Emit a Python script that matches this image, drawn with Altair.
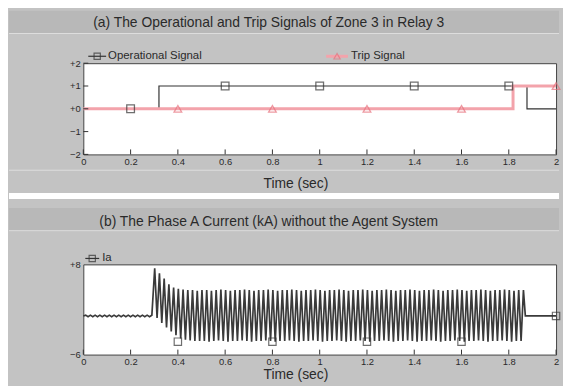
import altair as alt
import pandas as pd

# ---------------- data ----------------
time_ticks = [0, 0.2, 0.4, 0.6, 0.8, 1.0, 1.2, 1.4, 1.6, 1.8, 2.0]
sig_ticks = [-2, -1, 0, 1, 2]
ia_ticks = [-6, 8]

# (a) operational and trip signals (step shapes)
op_t = [0.0, 0.32, 0.32, 1.877, 1.877, 2.0]
op_v = [0, 0, 1, 1, 0, 0]
trip_t = [0.0, 1.818, 1.818, 2.0]
trip_v = [0, 0, 1, 1]
op_mark_t = [0.2, 0.6, 1.0, 1.4, 1.8]
op_mark_v = [0, 1, 1, 1, 1]
trip_mark_t = [0.4, 0.8, 1.2, 1.6, 2.0]
trip_mark_v = [0, 0, 0, 0, 1]

# (b) phase A current (kA): half-cycle peaks (50 Hz)
half_period = 0.01
pre_start = 0.0
pre_peaks = [0.0, 0.12, -0.12, 0.12, -0.12, 0.12, -0.12, 0.12, -0.12, 0.12,
             -0.12, 0.12, -0.12, 0.12, -0.12, 0.12, -0.12, 0.12, -0.12, 0.12,
             -0.12, 0.12, -0.12, 0.12, -0.12, 0.12, -0.12, 0.12, -0.12, 0.12]
fault_start = 0.302
fault_hi = [7.4, 6.6, 5.8, 4.9, 4.4, 4.2, 4.1, 4.0, 4.0, 3.9,
            4.0, 4.0, 3.9, 4.0, 4.1, 4.0, 3.9, 4.0, 4.0, 4.1,
            4.0, 3.9, 4.0, 4.0, 4.1, 4.0, 3.9, 4.0, 4.0, 4.1,
            4.0, 3.9, 4.0, 4.0, 4.1, 4.0, 3.9, 4.0, 4.0, 4.1,
            4.0, 3.9, 4.0, 4.0, 4.1, 4.0, 3.9, 4.0, 4.0, 4.1,
            4.0, 3.9, 4.0, 4.0, 4.1, 4.0, 3.9, 4.0, 4.0, 4.1,
            4.0, 3.9, 4.0, 4.0, 4.1, 4.0, 3.9, 4.0, 4.0, 4.1,
            4.0, 3.9, 4.0, 4.0, 4.1, 4.0, 3.9, 4.0, 4.0]
fault_lo = [-0.3, -1.1, -1.8, -2.4, -3.0, -3.5, -3.7, -3.8, -3.9, -3.9,
            -3.9, -4.0, -3.9, -3.8, -3.9, -4.0, -3.9, -3.9, -3.8, -3.9,
            -4.0, -3.9, -3.9, -3.8, -3.9, -4.0, -3.9, -3.9, -3.8, -3.9,
            -4.0, -3.9, -3.9, -3.8, -3.9, -4.0, -3.9, -3.9, -3.8, -3.9,
            -4.0, -3.9, -3.9, -3.8, -3.9, -4.0, -3.9, -3.9, -3.8, -3.9,
            -4.0, -3.9, -3.9, -3.8, -3.9, -4.0, -3.9, -3.9, -3.8, -3.9,
            -4.0, -3.9, -3.9, -3.8, -3.9, -4.0, -3.9, -3.9, -3.8, -3.9,
            -4.0, -3.9, -3.9, -3.8, -3.9, -4.0, -3.9, -3.9]
post_t = [1.870, 2.0]
post_v = [0.0, 0.0]
ia_mark_t = [0.4, 0.8, 1.2, 1.6, 2.0]
ia_mark_v = [-4.0, -4.0, -4.0, -4.0, 0.0]

title_a = "(a) The Operational and Trip Signals of Zone 3 in Relay 3"
title_b = "(b) The Phase A Current (kA) without the Agent System"
legend_a = ["Operational Signal", "Trip Signal"]
legend_b = ["Ia"]

# ---------------- build tables ----------------
ia_t, ia_v = [], []
for k, v in enumerate(pre_peaks):
    ia_t.append(pre_start + k * half_period)
    ia_v.append(v)
for k in range(len(fault_hi)):
    ia_t.append(fault_start + 2 * k * half_period)
    ia_v.append(fault_hi[k])
    if k < len(fault_lo):
        ia_t.append(fault_start + (2 * k + 1) * half_period)
        ia_v.append(fault_lo[k])
ia_t += post_t
ia_v += post_v

df_op = pd.DataFrame({"t": op_t, "v": op_v, "i": range(len(op_t))})
df_trip = pd.DataFrame({"t": trip_t, "v": trip_v, "i": range(len(trip_t))})
df_opm = pd.DataFrame({"t": op_mark_t, "v": op_mark_v})
df_tripm = pd.DataFrame({"t": trip_mark_t, "v": trip_mark_v})
df_ia = pd.DataFrame({"t": ia_t, "v": ia_v, "i": range(len(ia_t))})
df_iam = pd.DataFrame({"t": ia_mark_t, "v": ia_mark_v})
df_xt = pd.DataFrame({"t": time_ticks})
df_yt1 = pd.DataFrame({"v": sig_ticks})
one = pd.DataFrame({"a": [0]})

# ---------------- style ----------------
W, H1, H2 = 477, 92, 91
L, R = -75, 480          # panel extents relative to plot origin
BG = "#c3c3c3"
BAR = "#b8b8b8"
INK = "#2a2a2a"
LINE = "#333333"
PINK = "#f3a3ab"
PINK_M = "#e8707c"
FONT = "Liberation Sans"

xs = alt.Scale(domain=[0, 2], nice=False, zero=False)
ys1 = alt.Scale(domain=[-2, 2], nice=False)
ys2 = alt.Scale(domain=[-6, 8], nice=False)


def X(title_y):
    return alt.X("t:Q", scale=xs, axis=alt.Axis(
        values=time_ticks, format="~g", ticks=False, domain=False, grid=False,
        labelFontSize=9.5, labelPadding=2, labelColor=INK, labelFont=FONT, labelFlush=False,
        title="Time (sec)", titleFontSize=14, titleFontWeight="normal", titleFont=FONT,
        titleColor=INK, titleX=214, titleY=title_y, titleBaseline="middle", titleAlign="center"))


def Y(scale, vals):
    return alt.Y("v:Q", scale=scale, axis=alt.Axis(
        values=vals, format="+~g", ticks=False, domain=False, grid=False,
        labelFontSize=9.5, labelPadding=3, labelColor=INK, labelFont=FONT, title=None))


def rect(x1, x2, y1, y2, color):
    return alt.Chart(one).mark_rect(color=color).encode(
        x=alt.value(x1), x2=alt.value(x2), y=alt.value(y1), y2=alt.value(y2))


def hrule(x1, x2, y, color, w=1):
    return alt.Chart(one).mark_rule(color=color, strokeWidth=w).encode(
        x=alt.value(x1), x2=alt.value(x2), y=alt.value(y))


def label(text, x, y, size, align="left"):
    return alt.Chart(pd.DataFrame({"s": [text]})).mark_text(
        align=align, baseline="middle", fontSize=size, font=FONT, color=INK).encode(
        text="s:N", x=alt.value(x), y=alt.value(y))


def sym(x, y, shape, color, size=40):
    return alt.Chart(one).mark_point(shape=shape, filled=False, color=color, size=size,
                                     strokeWidth=1.2).encode(x=alt.value(x), y=alt.value(y))


# ---------------- panel (a) ----------------
Xa = X(29)
Ya = Y(ys1, sig_ticks)
top_layers = [
    rect(L, R, -53, -30, BAR),
    hrule(L, R, -30, "#dedede"),
    hrule(L, R, 108, "#dedede"),
    rect(L, R, 131, 137, "#ffffff"),
    label(title_a, 187, -41, 14, "center"),
    hrule(5, 23, -7, LINE, 1.2),
    sym(14, -7, "square", LINE),
    label(legend_a[0], 25, -7, 11.5),
    hrule(245, 267, -7, PINK, 3),
    sym(256, -7, "triangle-up", PINK_M),
    label(legend_a[1], 270, -7, 11.5),
    alt.Chart(df_op).mark_line(color=LINE, strokeWidth=1.2).encode(x=Xa, y=Ya, order="i:Q"),
    alt.Chart(df_trip).mark_line(color=PINK, strokeWidth=3).encode(x=Xa, y=Ya, order="i:Q"),
    alt.Chart(df_opm).mark_point(shape="square", filled=False, color=LINE, size=60, strokeWidth=1.3).encode(
        x=Xa, y=Ya),
    alt.Chart(df_tripm).mark_point(shape="triangle-up", filled=False, color=PINK_M, size=60, strokeWidth=1.3).encode(
        x=Xa, y=Ya),
    alt.Chart(df_xt).mark_rule(color=LINE).encode(x=Xa, y=alt.value(H1), y2=alt.value(H1 - 5)),
    alt.Chart(df_yt1).mark_rule(color=LINE).encode(y=Ya, x=alt.value(0), x2=alt.value(5)),
]
top = alt.layer(*top_layers).properties(width=W, height=H1)

# ---------------- panel (b) ----------------
Xb = X(20)
Yb = Y(ys2, ia_ticks)
bot_layers = [
    rect(L, R, -64, -57, BG),
    rect(L, R, -57, -34, BAR),
    hrule(L, R, -34, "#dedede"),
    label(title_b, 187, -43, 14, "center"),
    hrule(2, 16, -6, LINE, 1.2),
    sym(9, -6, "square", LINE),
    label(legend_b[0], 19, -6, 11.5),
    alt.Chart(df_ia).mark_line(color="#3a3a3a", strokeWidth=1.7).encode(x=Xb, y=Yb, order="i:Q"),
    alt.Chart(df_iam).mark_point(shape="square", filled=False, color=LINE, size=55, strokeWidth=1.2).encode(
        x=Xb, y=Yb),
    alt.Chart(df_xt).mark_rule(color=LINE).encode(x=Xb, y=alt.value(H2), y2=alt.value(H2 - 5)),
]
bottom = alt.layer(*bot_layers).properties(width=W, height=H2)

chart = alt.vconcat(top, bottom, spacing=0).properties(
    padding={"left": 0, "top": 0, "right": 0, "bottom": 2}
).configure(background=BG).configure_view(stroke="#444444", strokeWidth=1, fill="#ffffff")

chart.save("out.html", embed_options={"renderer": "svg", "actions": False})
